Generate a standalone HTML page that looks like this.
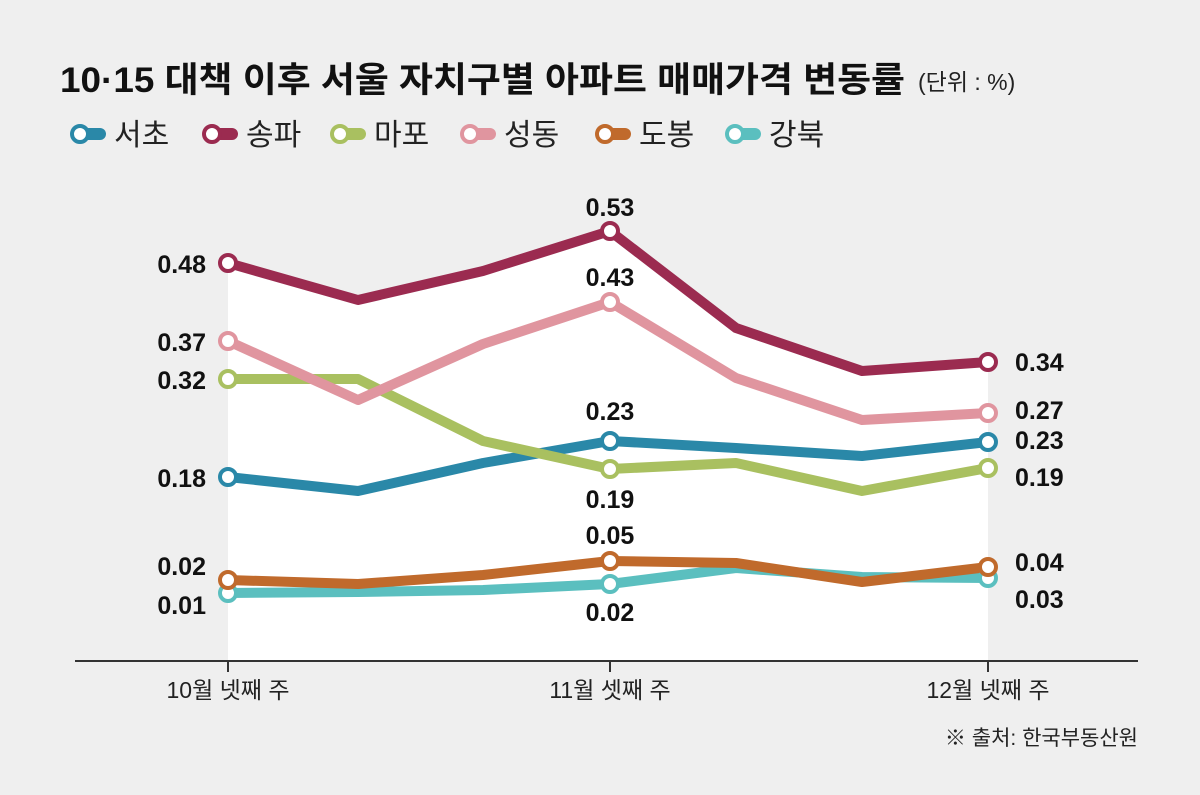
<!DOCTYPE html>
<html><head><meta charset="utf-8"><style>
html,body{margin:0;padding:0;background:#efefef;}
svg{display:block;font-family:"Liberation Sans","Noto Sans CJK KR",sans-serif;}
</style></head><body>
<svg width="1200" height="795" viewBox="0 0 1200 795" xmlns="http://www.w3.org/2000/svg">
<rect width="1200" height="795" fill="#efefef"/>
<text x="60" y="92" font-size="35" font-weight="bold" fill="#111" textLength="845" lengthAdjust="spacingAndGlyphs">10·15 대책 이후 서울 자치구별 아파트 매매가격 변동률</text>
<text x="918" y="90" font-size="23" fill="#222">(단위 : %)</text>
<g font-size="30" fill="#222">
<g transform="translate(70,134)"><line x1="10" y1="0" x2="30" y2="0" stroke="#2a88a8" stroke-width="12" stroke-linecap="round"/><circle cx="10" cy="0" r="8" fill="#fff" stroke="#2a88a8" stroke-width="4"/><text x="44" y="11">서초</text></g>
<g transform="translate(202,134)"><line x1="10" y1="0" x2="30" y2="0" stroke="#9b2b50" stroke-width="12" stroke-linecap="round"/><circle cx="10" cy="0" r="8" fill="#fff" stroke="#9b2b50" stroke-width="4"/><text x="44" y="11">송파</text></g>
<g transform="translate(330,134)"><line x1="10" y1="0" x2="30" y2="0" stroke="#a9c060" stroke-width="12" stroke-linecap="round"/><circle cx="10" cy="0" r="8" fill="#fff" stroke="#a9c060" stroke-width="4"/><text x="44" y="11">마포</text></g>
<g transform="translate(460,134)"><line x1="10" y1="0" x2="30" y2="0" stroke="#e0959f" stroke-width="12" stroke-linecap="round"/><circle cx="10" cy="0" r="8" fill="#fff" stroke="#e0959f" stroke-width="4"/><text x="44" y="11">성동</text></g>
<g transform="translate(595,134)"><line x1="10" y1="0" x2="30" y2="0" stroke="#c06a2c" stroke-width="12" stroke-linecap="round"/><circle cx="10" cy="0" r="8" fill="#fff" stroke="#c06a2c" stroke-width="4"/><text x="44" y="11">도봉</text></g>
<g transform="translate(725,134)"><line x1="10" y1="0" x2="30" y2="0" stroke="#5bbfbf" stroke-width="12" stroke-linecap="round"/><circle cx="10" cy="0" r="8" fill="#fff" stroke="#5bbfbf" stroke-width="4"/><text x="44" y="11">강북</text></g>
</g>
<polygon points="228,263 358,300 483,271 610,231 736,328 862,371 988,362 988,661 228,661" fill="#fff"/>
<line x1="75" y1="661" x2="1138" y2="661" stroke="#333" stroke-width="2"/>
<g stroke="#333" stroke-width="2"><line x1="228" y1="661" x2="228" y2="672"/><line x1="610" y1="661" x2="610" y2="672"/><line x1="988" y1="661" x2="988" y2="672"/></g>
<g font-size="23" fill="#222" text-anchor="middle"><text x="228" y="698">10월 넷째 주</text><text x="610" y="698">11월 셋째 주</text><text x="988" y="698">12월 넷째 주</text></g>
<text x="1138" y="745" font-size="21" fill="#222" text-anchor="end">※ 출처: 한국부동산원</text>
<g fill="none" stroke-width="10" stroke-linejoin="round">
<polyline stroke="#5bbfbf" points="228,593 358,592 483,590 610,584 736,568 862,577 988,578"/>
<polyline stroke="#c06a2c" points="228,580 358,584 483,575 610,561 736,563 862,582 988,567"/>
<polyline stroke="#2a88a8" points="228,477 358,491 483,463 610,441 736,448 862,456 988,442"/>
<polyline stroke="#a9c060" points="228,379 358,379 483,441 610,469 736,463 862,491 988,468"/>
<polyline stroke="#e0959f" points="228,341 358,400 483,344 610,302 736,378 862,420 988,413"/>
<polyline stroke="#9b2b50" points="228,263 358,300 483,271 610,231 736,328 862,371 988,362"/>
</g>
<g fill="#fff" stroke-width="4">
<g stroke="#5bbfbf"><circle cx="228" cy="593" r="8"/><circle cx="610" cy="584" r="8"/><circle cx="988" cy="578" r="8"/></g>
<g stroke="#c06a2c"><circle cx="228" cy="580" r="8"/><circle cx="610" cy="561" r="8"/><circle cx="988" cy="567" r="8"/></g>
<g stroke="#2a88a8"><circle cx="228" cy="477" r="8"/><circle cx="610" cy="441" r="8"/><circle cx="988" cy="442" r="8"/></g>
<g stroke="#a9c060"><circle cx="228" cy="379" r="8"/><circle cx="610" cy="469" r="8"/><circle cx="988" cy="468" r="8"/></g>
<g stroke="#e0959f"><circle cx="228" cy="341" r="8"/><circle cx="610" cy="302" r="8"/><circle cx="988" cy="413" r="8"/></g>
<g stroke="#9b2b50"><circle cx="228" cy="263" r="8"/><circle cx="610" cy="231" r="8"/><circle cx="988" cy="362" r="8"/></g>
</g>
<g font-size="25" font-weight="bold" fill="#111">
<g text-anchor="end"><text x="206" y="273">0.48</text><text x="206" y="351">0.37</text><text x="206" y="389">0.32</text><text x="206" y="487">0.18</text><text x="206" y="575">0.02</text><text x="206" y="614">0.01</text></g>
<g text-anchor="middle"><text x="610" y="216">0.53</text><text x="610" y="286">0.43</text><text x="610" y="420">0.23</text><text x="610" y="508">0.19</text><text x="610" y="544">0.05</text><text x="610" y="621">0.02</text></g>
<g><text x="1015" y="371">0.34</text><text x="1015" y="419">0.27</text><text x="1015" y="449">0.23</text><text x="1015" y="486">0.19</text><text x="1015" y="571">0.04</text><text x="1015" y="608">0.03</text></g>
</g>
</svg>
</body></html>
